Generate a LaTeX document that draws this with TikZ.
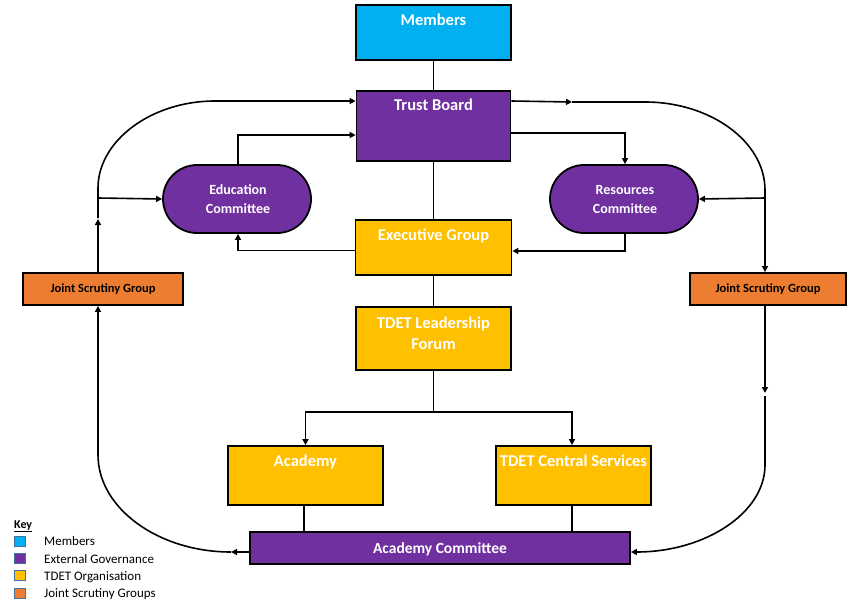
\documentclass[tikz,border=0pt]{standalone}
\usepackage{fontspec}
\setmainfont{Carlito}
\usetikzlibrary{arrows.meta,calc}
\definecolor{cmem}{HTML}{00B0F0}
\definecolor{cgov}{HTML}{7030A0}
\definecolor{corg}{HTML}{FFC000}
\definecolor{cjsg}{HTML}{ED7D31}
\definecolor{ckey}{HTML}{41719C}
\begin{document}
\begin{tikzpicture}[x=1pt,y=-1pt,
  box/.style={draw=black,line width=1.8pt,inner sep=0pt},
  stadium/.style={box,rounded corners=34pt,minimum width=148pt,minimum height=68pt,fill=cgov},
  lbl/.style={text=white,font=\bfseries\fontsize{16.5}{21}\selectfont,inner sep=0pt,anchor=base,align=center},
  slbl/.style={text=white,font=\bfseries\fontsize{14}{19}\selectfont,inner sep=0pt,anchor=base,align=center},
  jlbl/.style={text=black,font=\bfseries\fontsize{12.5}{15}\selectfont,inner sep=0pt,anchor=base},
  conn/.style={line width=1.6pt},
  arr/.style={conn,-{Triangle[length=6pt,width=6pt]}},
  keysq/.style={draw=ckey,line width=0.8pt,minimum width=11pt,minimum height=10pt,inner sep=0pt},
  keytxt/.style={font=\fontsize{13}{15}\selectfont,inner sep=0pt,anchor=base west}]
\useasboundingbox (0,0) rectangle (862,607);

% boxes
\node[box,fill=cmem,minimum width=155pt,minimum height=55pt] (mem) at (433.5,32.5) {};
\node[box,fill=cgov,minimum width=154pt,minimum height=70pt] (tb) at (433.5,126) {};
\node[stadium] (edu) at (237,199) {};
\node[stadium] (res) at (624,199) {};
\node[box,fill=corg,minimum width=156pt,minimum height=55pt] (exe) at (433.5,247.5) {};
\node[box,fill=corg,minimum width=155pt,minimum height=63pt] (tlf) at (433.5,338.5) {};
\node[box,fill=corg,minimum width=155pt,minimum height=59pt] (aca) at (305.5,475.5) {};
\node[box,fill=corg,minimum width=155pt,minimum height=59pt] (tcs) at (573.5,475.5) {};
\node[box,fill=cgov,minimum width=380pt,minimum height=32pt] (ac) at (440,548) {};
\node[box,fill=cjsg,minimum width=160pt,minimum height=32pt] (jsgl) at (103,289) {};
\node[box,fill=cjsg,minimum width=156pt,minimum height=32pt] (jsgr) at (768,289) {};

% labels
\node[lbl] (memt) at (433.5,25.5) {Members};
\node[lbl] (tbt) at (433.5,110.5) {Trust Board};
\node[slbl] (edut) at (238,213) {Education\\Committee};
\node[slbl] (rest) at (625,213) {Resources\\Committee};
\node[lbl] (exet) at (433.5,240.5) {Executive Group};
\node[lbl] (tlft) at (433.5,349.5) {TDET Leadership\\Forum};
\node[lbl] (acat) at (305.5,466.5) {Academy};
\node[lbl] (tcst) at (573.5,466.5) {TDET Central Services};
\node[lbl,font=\bfseries\fontsize{15.5}{19}\selectfont] (act) at (440,553) {Academy Committee};
\node[jlbl] (jsglt) at (103,292.5) {Joint Scrutiny Group};
\node[jlbl] (jsgrt) at (768,292.5) {Joint Scrutiny Group};

% central spine
\draw[conn] (mem.south) -- (tb.north);
\draw[conn] (tb.south) -- (exe.north);
\draw[conn] (exe.south) -- (tlf.north);
\coordinate (split) at (433.5,412);
\draw[conn] (tlf.south) -- (split);
\draw[arr] (split) -| (aca.north);
\draw[arr] (split) -| ([xshift=-1.5pt]tcs.north);
\draw[conn] ([xshift=-1.5pt]aca.south) -- ([xshift=-1.5pt]aca.south |- ac.north);
\draw[conn] ([xshift=-1.5pt]tcs.south) -- ([xshift=-1.5pt]tcs.south |- ac.north);

% committees
\draw[arr] ([xshift=1pt]edu.north) |- ([yshift=-9pt]tb.west);
\draw[arr] ([yshift=-7pt]tb.east) -| ([xshift=1pt]res.north);
\draw[arr] ([yshift=-3pt]exe.west) -| ([xshift=1pt]edu.south);
\draw[arr] ([xshift=1pt]res.south) |- ([yshift=-3.5pt]exe.east);

% left loop
\coordinate (lj) at (98,198);
\coordinate (lgap) at (98,219);
\coordinate (ltop) at (98,188);
\coordinate (lh) at (215,101);
\draw[arr] ([xshift=-5pt]jsgl.north) -- (lgap);
\draw[conn] (98,218) -- (ltop) .. controls (98,141) and (151,101) .. (lh);
\draw[arr] (lh) -- ([yshift=25pt]tb.west);
\draw[arr] (lj) -- (edu.west);
\coordinate (lb) at (231,552);
\coordinate (lv) at (98,455);
\draw[arr] ([yshift=-4pt]ac.west) -- (lb);
\draw[arr] (lb) .. controls (158,552) and (98,508) .. (lv) -- ([xshift=-5pt]jsgl.south);

% right loop
\coordinate (rm) at (572,102);
\coordinate (rh) at (645,102);
\coordinate (rv) at (765,190);
\coordinate (rj) at (765,198);
\draw[arr] ([yshift=25pt]tb.east) -- (rm);
\draw[conn] (rm) -- (rh) .. controls (711,102) and (765,142) .. (rv) -- (rj);
\draw[arr] (rj) -- ([xshift=-3pt]jsgr.north);
\draw[arr] (rj) -- (res.east);
\coordinate (rg) at (765,393);
\coordinate (rg2) at (765,396);
\coordinate (rl) at (765,465);
\draw[arr] ([xshift=-3pt]jsgr.south) -- (rg);
\draw[arr] (rg2) -- (rl) .. controls (765,513) and (705,552) .. ([yshift=-4pt]ac.east);

% key
\node[inner sep=0pt,anchor=base west,font=\bfseries\fontsize{12}{14}\selectfont] (keyt) at (14,528) {\underline{Key}};
\node[keysq,fill=cmem] (k1) at (19.5,541) {};
\node[keysq,fill=cgov] (k2) at (19.5,558.5) {};
\node[keysq,fill=corg] (k3) at (19.5,575.5) {};
\node[keysq,fill=cjsg] (k4) at (19.5,593) {};
\node[keytxt] (k1t) at (44,545.5) {Members};
\node[keytxt] (k2t) at (44,563) {External Governance};
\node[keytxt] (k3t) at (44,580) {TDET Organisation};
\node[keytxt] (k4t) at (44,597.5) {Joint Scrutiny Groups};
\end{tikzpicture}
\end{document}
